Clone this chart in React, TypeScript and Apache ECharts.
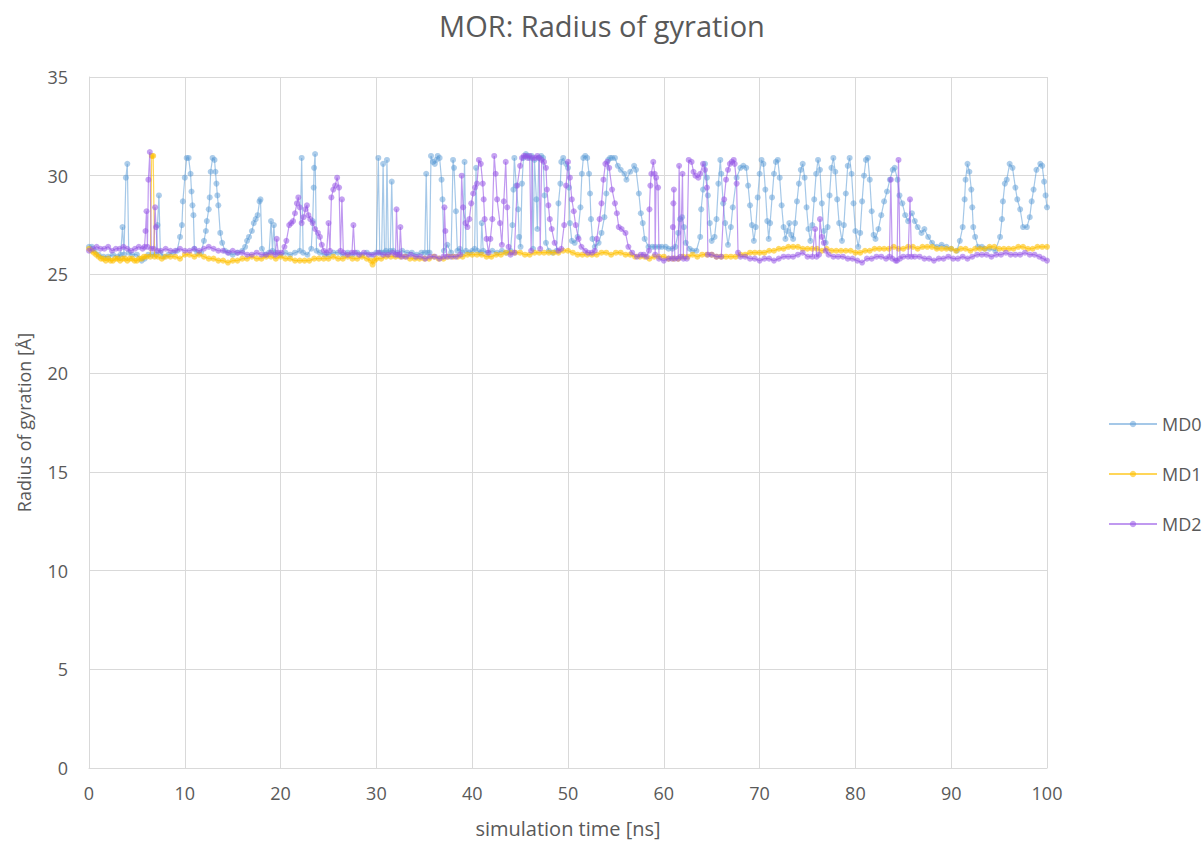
import React, { useEffect, useRef } from "react";
import * as echarts from "echarts";

const title = "MOR: Radius of gyration";
const xName = "simulation time [ns]";
const yName = "Radius of gyration [Å]";
const seriesNames = ["MD0", "MD1", "MD2"];

const md0: number[][] = [
  [0,26.4],[0.3,26.4],[0.6,26.2],[1,26.0],[1.5,25.9],[2,25.9],[2.5,26.0],[3,25.9],[3.3,26.0],[3.5,27.4],[3.65,26.0],[3.85,29.9],[4.0,30.6],[4.15,26.1],[4.5,26.0],[5,26.0],[5.5,25.7],[5.8,25.8],[6.2,26.0],[6.6,26.0],[7.0,26.0],[7.15,27.5],[7.3,29.0],[7.45,26.1],[7.8,25.9],[8.3,26.0],[8.8,26.1],[9.2,26.2],[9.5,26.9],[9.7,27.5],[9.8,28.7],[10.0,29.9],[10.2,30.9],[10.4,30.9],[10.6,30.1],[10.7,29.2],[10.8,28.5],[10.9,28.0],[11.0,26.3],[11.3,26.1],[11.7,26.1],[12.0,26.7],[12.2,27.2],[12.3,27.7],[12.5,28.3],[12.6,28.9],[12.7,30.2],[12.9,30.9],[13.1,30.8],[13.2,30.2],[13.3,29.6],[13.4,29.0],[13.5,28.5],[13.7,27.1],[13.9,26.6],[14.2,26.2],[14.6,26.1],[15.0,26.0],[15.5,26.1],[16.0,26.2],[16.3,26.4],[16.5,26.7],[16.7,26.9],[17.0,27.2],[17.2,27.6],[17.4,27.8],[17.6,28.0],[17.8,28.7],[17.9,28.8],[18.05,26.3],[18.4,26.0],[18.8,26.1],[19.0,27.7],[19.15,26.2],[19.3,27.5],[19.45,26.1],[20,26.0],[20.5,26.1],[21,26.0],[21.5,26.1],[22.0,26.2],[22.2,30.9],[22.35,26.1],[22.8,26.0],[23.2,26.3],[23.35,27.7],[23.45,29.4],[23.5,30.4],[23.6,31.1],[23.75,26.2],[24.1,26.1],[24.6,26.0],[25,26.0],[25.5,26.1],[26,26.1],[26.5,26.0],[27,26.1],[27.5,26.0],[28,26.1],[28.5,26.0],[29,26.1],[29.5,26.0],[30,26.1],[30.2,30.9],[30.35,26.1],[30.55,26.1],[30.7,30.6],[30.85,26.1],[31.0,26.2],[31.1,30.8],[31.25,26.1],[31.45,26.2],[31.6,29.7],[31.75,26.2],[32.2,26.1],[32.7,26.2],[33.2,26.1],[33.7,26.1],[34.2,26.0],[34.7,26.1],[35.05,26.1],[35.2,30.1],[35.35,26.1],[35.55,26.1],[35.7,31.0],[35.9,30.7],[36.1,30.6],[36.25,30.8],[36.4,31.0],[36.6,30.9],[36.8,29.8],[36.9,28.8],[37.05,26.2],[37.4,26.5],[37.8,26.1],[38.0,30.8],[38.1,30.4],[38.3,28.2],[38.45,26.2],[38.7,26.3],[39.0,26.1],[39.2,30.7],[39.35,26.2],[39.7,26.1],[40.0,26.2],[40.25,26.3],[40.4,30.4],[40.55,26.2],[40.9,26.1],[41.0,27.6],[41.15,26.2],[41.6,26.1],[42.1,26.2],[42.6,26.1],[43.1,26.2],[43.6,26.1],[44.0,26.2],[44.2,27.5],[44.3,29.3],[44.4,30.9],[44.6,29.5],[44.8,28.3],[44.9,26.9],[45.05,26.4],[45.2,29.6],[45.35,30.9],[45.6,31.1],[45.8,31.0],[46.0,30.9],[46.2,31.0],[46.35,26.3],[46.5,30.8],[46.7,28.8],[46.8,27.3],[46.95,30.9],[47.2,31.0],[47.4,30.9],[47.55,29.0],[47.7,26.6],[48.0,26.2],[48.4,26.1],[48.8,26.2],[49.0,28.6],[49.2,29.6],[49.3,30.7],[49.5,30.9],[49.8,30.6],[50.0,30.4],[50.1,29.4],[50.2,27.6],[50.4,26.7],[50.7,26.6],[51.0,26.9],[51.3,28.4],[51.45,30.1],[51.6,30.9],[51.8,31.0],[52.0,30.9],[52.2,30.1],[52.3,29.1],[52.4,27.8],[52.55,26.8],[52.8,26.4],[53.2,26.6],[53.5,27.1],[53.8,27.9],[54.0,29.1],[54.2,30.8],[54.4,30.9],[54.6,30.9],[54.9,30.9],[55.2,30.5],[55.5,30.3],[55.9,30.1],[56.1,29.8],[56.5,30.2],[56.9,30.5],[57.1,30.3],[57.4,29.1],[57.6,28.1],[57.8,27.6],[58.0,26.8],[58.4,26.4],[58.8,26.4],[59.1,26.4],[59.5,26.4],[59.8,26.4],[60.2,26.4],[60.5,26.3],[60.9,26.3],[61.2,26.4],[61.5,27.1],[61.7,27.8],[61.9,27.9],[62.1,27.4],[62.3,26.6],[62.7,26.3],[63.0,26.2],[63.4,26.2],[63.8,26.9],[63.9,28.3],[64.1,29.3],[64.3,30.6],[64.5,29.9],[64.6,29.0],[64.8,27.6],[65.0,26.7],[65.3,26.9],[65.5,27.8],[65.7,29.6],[65.9,30.8],[66.0,30.1],[66.2,28.6],[66.4,27.6],[66.7,26.5],[67.0,27.4],[67.2,28.4],[67.6,29.9],[68.0,30.4],[68.3,30.5],[68.6,30.4],[68.8,29.5],[69.0,28.5],[69.2,27.5],[69.4,26.7],[69.6,27.4],[69.8,28.9],[70.0,30.1],[70.2,30.8],[70.4,30.6],[70.6,29.3],[70.8,27.7],[70.95,26.8],[71.1,27.6],[71.3,28.9],[71.5,30.1],[71.7,30.7],[71.9,30.8],[72.1,29.9],[72.3,28.5],[72.5,27.4],[72.7,26.8],[72.9,27.2],[73.1,27.6],[73.3,27.0],[73.5,26.8],[73.7,27.6],[73.9,28.7],[74.1,29.6],[74.3,30.3],[74.5,30.6],[74.7,29.9],[74.9,28.4],[75.1,27.3],[75.3,26.7],[75.5,27.5],[75.7,28.8],[75.9,30.1],[76.1,30.8],[76.3,30.3],[76.5,28.6],[76.7,27.2],[76.9,26.6],[77.1,27.4],[77.3,29.0],[77.5,30.4],[77.7,30.9],[77.9,30.2],[78.1,28.8],[78.3,27.6],[78.6,26.7],[78.8,27.5],[79.0,29.1],[79.2,30.5],[79.4,30.9],[79.6,30.1],[79.8,28.6],[80.0,27.2],[80.3,26.4],[80.5,27.1],[80.7,28.7],[80.9,30.0],[81.1,30.8],[81.3,30.9],[81.5,29.8],[81.7,28.2],[81.9,27.0],[82.1,26.8],[82.4,27.3],[82.7,28.0],[83.0,28.7],[83.3,29.2],[83.6,29.8],[83.9,30.3],[84.1,30.4],[84.4,29.8],[84.6,29.0],[84.9,28.6],[85.2,28.0],[85.5,27.7],[85.9,28.1],[86.2,27.7],[86.5,27.4],[86.9,27.1],[87.2,27.3],[87.6,26.9],[88.0,26.6],[88.5,26.4],[89.0,26.5],[89.5,26.4],[90.0,26.3],[90.6,26.2],[90.9,26.7],[91.2,27.4],[91.4,28.8],[91.5,29.8],[91.7,30.6],[91.9,30.2],[92.1,29.3],[92.2,28.4],[92.3,27.4],[92.5,26.9],[92.8,26.4],[93.2,26.4],[93.5,26.3],[94.0,26.3],[94.6,26.2],[95.1,26.9],[95.3,27.8],[95.4,28.7],[95.6,29.6],[95.8,29.8],[96.1,30.6],[96.4,30.4],[96.7,29.4],[96.9,28.8],[97.2,28.3],[97.5,27.4],[97.9,27.4],[98.2,27.9],[98.4,28.7],[98.6,29.3],[98.9,30.3],[99.3,30.6],[99.5,30.5],[99.7,29.7],[99.85,29.0],[100,28.4]
];

const md1: number[][] = [
  [0,26.3],[0.25,26.2],[0.5,26.1],[0.75,26.0],[1,25.9],[1.25,25.8],[1.5,25.8],[1.75,25.7],[2,25.8],[2.25,25.7],[2.5,25.7],[2.75,25.8],[3,25.8],[3.25,25.7],[3.5,25.8],[3.75,25.8],[4,25.7],[4.25,25.8],[4.5,25.8],[4.75,25.7],[5,25.7],[5.25,25.8],[5.5,25.8],[5.75,25.9],[6,25.9],[6.4,25.9],[6.55,31.0],[6.7,31.0],[6.85,25.9],[7.2,25.9],[7.6,25.8],[8,25.9],[8.5,25.9],[9,25.9],[9.5,25.8],[10,26.0],[10.5,26.0],[11,25.9],[11.5,26.0],[12,25.9],[12.5,25.8],[13,25.8],[13.5,25.7],[14,25.7],[14.5,25.6],[15,25.7],[15.5,25.7],[16,25.8],[16.5,25.8],[17,25.9],[17.5,25.8],[18,25.8],[18.5,25.9],[19,25.9],[19.5,25.8],[20,25.9],[20.5,25.8],[21,25.8],[21.5,25.7],[22,25.7],[22.5,25.7],[23,25.7],[23.5,25.8],[24,25.8],[24.5,25.8],[25,25.8],[25.5,25.9],[26,25.8],[26.5,25.8],[27,25.9],[27.5,25.8],[28,25.8],[28.5,25.9],[29,25.8],[29.4,25.7],[29.6,25.5],[29.8,25.7],[30,25.8],[30.5,25.8],[31,25.9],[31.5,25.9],[32,25.9],[32.5,25.9],[33,25.9],[33.5,25.8],[34,25.8],[34.5,25.8],[35,25.8],[35.5,25.8],[36,25.9],[36.5,25.8],[37,25.8],[37.5,25.9],[38,25.9],[38.5,25.9],[39,25.9],[39.5,26.0],[40,26.0],[40.5,26.0],[41,26.0],[41.5,25.9],[42,25.9],[42.5,26.0],[43,26.0],[43.5,26.1],[44,26.1],[44.5,26.1],[45,26.1],[45.5,26.0],[46,26.0],[46.5,26.1],[47,26.1],[47.5,26.1],[48,26.1],[48.5,26.1],[49,26.1],[49.5,26.2],[50,26.2],[50.5,26.1],[51,26.0],[51.5,26.0],[52,26.0],[52.5,26.0],[53,26.0],[53.5,26.1],[54,26.1],[54.5,26.0],[55,26.1],[55.5,26.1],[56,26.0],[56.5,26.0],[57,25.9],[57.5,25.9],[58,25.9],[58.5,25.8],[59,25.9],[59.5,25.9],[60,25.9],[60.5,25.8],[61,25.8],[61.5,25.8],[62,25.9],[62.5,25.9],[63,26.0],[63.5,25.9],[64,26.0],[64.5,26.0],[65,26.0],[65.5,25.9],[66,25.9],[66.5,25.9],[67,25.9],[67.5,25.9],[68,26.0],[68.5,26.0],[69,26.1],[69.5,26.1],[70,26.1],[70.5,26.1],[71,26.2],[71.5,26.2],[72,26.3],[72.5,26.3],[73,26.4],[73.5,26.4],[74,26.4],[74.5,26.3],[75,26.3],[75.5,26.3],[76,26.3],[76.5,26.2],[77,26.3],[77.5,26.2],[78,26.2],[78.5,26.2],[79,26.2],[79.5,26.2],[80,26.1],[80.5,26.1],[81,26.2],[81.5,26.2],[82,26.3],[82.5,26.3],[83,26.3],[83.5,26.3],[84,26.4],[84.5,26.3],[85,26.3],[85.5,26.4],[86,26.4],[86.5,26.3],[87,26.4],[87.5,26.4],[88,26.4],[88.5,26.3],[89,26.3],[89.5,26.3],[90,26.3],[90.5,26.2],[91,26.3],[91.5,26.3],[92,26.2],[92.5,26.3],[93,26.3],[93.5,26.3],[94,26.4],[94.5,26.4],[95,26.3],[95.5,26.3],[96,26.3],[96.5,26.3],[97,26.4],[97.5,26.4],[98,26.3],[98.5,26.3],[99,26.4],[99.5,26.4],[100,26.4]
];

const md2: number[][] = [
  [0,26.2],[0.4,26.3],[0.8,26.4],[1.2,26.3],[1.6,26.3],[2.0,26.4],[2.4,26.2],[2.8,26.3],[3.2,26.3],[3.6,26.4],[4.0,26.3],[4.4,26.2],[4.8,26.3],[5.2,26.4],[5.6,26.3],[5.8,26.4],[5.9,27.2],[6.0,28.2],[6.1,26.4],[6.2,29.8],[6.35,31.2],[6.5,26.3],[6.75,26.3],[6.9,28.4],[7.0,27.4],[7.15,26.2],[7.5,26.2],[8.0,26.3],[8.5,26.2],[9.0,26.2],[9.5,26.3],[10.0,26.2],[10.5,26.2],[11.0,26.3],[11.5,26.2],[12.0,26.3],[12.5,26.4],[13.0,26.3],[13.5,26.2],[14.0,26.2],[14.5,26.1],[15.0,26.2],[15.5,26.1],[16.0,26.1],[16.5,26.0],[17.0,26.0],[17.5,26.1],[18.0,26.0],[18.5,26.0],[19.0,26.1],[19.45,26.0],[19.6,26.8],[19.75,26.1],[20.1,26.1],[20.4,26.4],[20.6,26.7],[20.9,27.5],[21.1,27.6],[21.3,27.7],[21.5,28.1],[21.7,28.6],[21.85,28.9],[22.0,28.4],[22.2,27.6],[22.4,27.9],[22.6,28.3],[22.75,28.5],[22.9,28.0],[23.1,27.8],[23.35,27.6],[23.6,27.3],[23.9,27.1],[24.1,26.9],[24.3,26.5],[24.5,26.2],[24.8,26.1],[25.0,27.6],[25.15,26.2],[25.3,28.9],[25.5,29.3],[25.7,29.5],[25.9,29.9],[26.1,29.4],[26.25,26.2],[26.4,28.8],[26.55,26.1],[27.0,26.0],[27.45,26.1],[27.6,27.5],[27.75,26.1],[28.2,26.0],[28.7,26.1],[29.2,26.0],[29.7,26.0],[30.2,26.1],[30.7,26.0],[31.2,26.0],[31.7,26.1],[32.0,26.0],[32.1,28.3],[32.25,26.0],[32.4,26.0],[32.5,27.4],[32.65,25.9],[33.1,25.9],[33.6,26.0],[34.1,25.9],[34.6,25.9],[35.1,25.8],[35.6,25.9],[36.1,25.9],[36.6,25.8],[37.0,25.9],[37.1,28.4],[37.2,27.2],[37.35,25.9],[37.8,25.9],[38.3,25.9],[38.75,26.0],[38.9,30.0],[39.05,28.4],[39.3,27.6],[39.5,27.4],[39.7,27.8],[39.9,28.6],[40.1,29.1],[40.3,29.4],[40.5,29.6],[40.7,30.8],[40.9,30.6],[41.1,29.6],[41.2,28.8],[41.3,27.8],[41.5,26.8],[41.7,26.1],[41.9,26.8],[42.1,27.8],[42.3,31.0],[42.45,30.1],[42.6,28.8],[42.9,27.6],[43.1,26.5],[43.3,28.7],[43.5,30.7],[43.65,28.4],[43.8,26.4],[44.0,26.0],[44.4,26.1],[44.7,29.5],[45.0,30.5],[45.2,30.9],[45.4,31.0],[45.6,31.0],[45.8,30.9],[46.0,31.0],[46.15,26.2],[46.3,30.9],[46.6,30.9],[46.8,31.0],[47.0,30.9],[47.1,26.3],[47.25,30.8],[47.5,30.7],[47.7,30.4],[47.8,29.3],[47.95,28.5],[48.1,27.8],[48.3,27.3],[48.6,26.6],[49.0,26.2],[49.3,26.3],[49.6,27.5],[49.8,29.5],[50.0,30.7],[50.2,29.9],[50.4,28.8],[50.6,28.2],[50.8,27.5],[51.1,26.8],[51.4,26.4],[51.8,26.2],[52.1,26.1],[52.5,26.1],[52.8,26.2],[53.0,26.8],[53.3,27.8],[53.5,28.6],[53.7,29.8],[53.9,30.6],[54.1,30.7],[54.3,30.4],[54.6,29.3],[54.9,28.6],[55.1,28.1],[55.3,27.4],[55.6,27.3],[56.0,27.1],[56.3,26.4],[56.7,26.1],[57.2,25.9],[57.6,26.0],[57.9,26.0],[58.2,25.9],[58.45,26.2],[58.5,28.3],[58.6,29.5],[58.7,30.1],[58.9,30.7],[59.05,30.1],[59.1,26.0],[59.2,29.9],[59.4,29.4],[59.5,25.8],[60.0,25.7],[60.5,25.8],[60.85,25.8],[60.95,27.4],[61.0,28.6],[61.05,29.3],[61.15,25.8],[61.5,25.8],[61.6,30.5],[61.75,25.9],[61.95,30.1],[62.05,25.8],[62.4,25.8],[62.6,30.8],[62.9,30.7],[63.1,30.2],[63.3,30.0],[63.6,29.9],[63.8,30.1],[64.1,30.6],[64.3,30.3],[64.5,29.4],[64.6,26.0],[65.0,26.0],[65.5,25.9],[66.0,25.9],[66.3,28.8],[66.5,29.8],[66.7,30.3],[66.9,30.6],[67.1,30.7],[67.3,30.8],[67.4,30.6],[67.6,29.6],[67.75,26.1],[68.0,25.9],[68.5,25.9],[69.0,25.8],[69.5,25.8],[70.0,25.7],[70.5,25.8],[71.0,25.8],[71.5,25.7],[72.0,25.8],[72.5,25.9],[73.0,25.9],[73.5,25.9],[74.0,26.0],[74.5,26.1],[75.0,25.9],[75.5,25.9],[75.8,27.3],[75.95,25.9],[76.2,26.0],[76.3,27.8],[76.5,26.9],[76.7,26.6],[76.9,26.2],[77.2,26.0],[77.7,25.9],[78.2,25.9],[78.7,25.9],[79.2,25.8],[79.7,25.8],[80.2,25.7],[80.7,25.6],[81.2,25.8],[81.7,25.8],[82.2,25.9],[82.7,25.9],[83.2,25.8],[83.55,25.9],[83.7,29.8],[83.85,25.8],[84.2,25.7],[84.35,25.7],[84.5,30.8],[84.65,25.8],[85.0,25.9],[85.5,25.9],[85.7,28.8],[85.85,25.9],[86.2,25.9],[86.7,25.9],[87.2,25.8],[87.7,25.8],[88.2,25.7],[88.7,25.8],[89.2,25.8],[89.7,25.9],[90.2,25.8],[90.7,25.8],[91.2,25.9],[91.7,25.8],[92.2,25.9],[92.7,26.0],[93.2,26.0],[93.7,26.0],[94.2,25.9],[94.7,26.0],[95.2,26.0],[95.7,26.1],[96.2,26.0],[96.7,26.0],[97.2,26.0],[97.7,26.1],[98.2,26.0],[98.7,26.0],[99.2,25.9],[99.6,25.8],[100,25.7]
];

const seriesData = [md0, md1, md2];
const lineColors = ["rgba(91,155,213,0.55)", "rgba(255,192,0,0.65)", "rgba(150,85,230,0.6)"];
const markerColors = ["rgba(91,155,213,0.5)", "rgba(255,192,0,0.6)", "rgba(150,85,230,0.55)"];

const FONT = "'Open Sans', 'Noto Sans', sans-serif";
const TXT = "#595959";

export default function App() {
  const ref = useRef<HTMLDivElement>(null);
  useEffect(() => {
    if (!ref.current) return;
    const chart = echarts.init(ref.current, undefined, { renderer: "svg" });
    chart.setOption({
      animation: false,
      backgroundColor: "#ffffff",
      textStyle: { fontFamily: FONT },
      title: {
        text: title,
        left: "center",
        top: 6,
        textStyle: { fontFamily: FONT, fontSize: 29, fontWeight: "normal", color: TXT },
      },
      legend: {
        orient: "vertical",
        left: 1103,
        top: 410,
        itemWidth: 48,
        itemHeight: 8,
        itemGap: 32,
        textStyle: { fontFamily: FONT, fontSize: 18, color: TXT },
        data: seriesNames,
      },
      grid: { left: 89, right: 157, top: 77, bottom: 77, containLabel: false },
      xAxis: {
        type: "value",
        min: 0,
        max: 100,
        interval: 10,
        name: xName,
        nameLocation: "middle",
        nameGap: 50,
        nameTextStyle: { fontFamily: FONT, fontSize: 20, color: TXT },
        axisLine: { show: true, lineStyle: { color: "#d9d9d9" } },
        axisTick: { show: false },
        axisLabel: { fontFamily: FONT, fontSize: 18, color: TXT, margin: 16 },
        splitLine: { show: true, lineStyle: { color: "#d9d9d9", width: 1 } },
      },
      yAxis: {
        type: "value",
        min: 0,
        max: 35,
        interval: 5,
        name: yName,
        nameLocation: "middle",
        nameGap: 56,
        nameTextStyle: { fontFamily: FONT, fontSize: 18, color: TXT },
        axisLine: { show: true, lineStyle: { color: "#d9d9d9" } },
        axisTick: { show: false },
        axisLabel: { fontFamily: FONT, fontSize: 18, color: TXT, margin: 21 },
        splitLine: { show: true, lineStyle: { color: "#d9d9d9", width: 1 } },
      },
      series: seriesNames.map((name, i) => ({
        name,
        type: "line",
        data: seriesData[i],
        symbol: "circle",
        symbolSize: 6,
        showSymbol: true,
        lineStyle: { color: lineColors[i], width: 1.2 },
        itemStyle: { color: markerColors[i] },
        emphasis: { disabled: true },
        z: 2 + i,
      })),
    });
    return () => chart.dispose();
  }, []);
  return (
    <div
      ref={ref}
      style={{ position: "fixed", left: 0, top: 0, width: 1204, height: 845 }}
    />
  );
}
